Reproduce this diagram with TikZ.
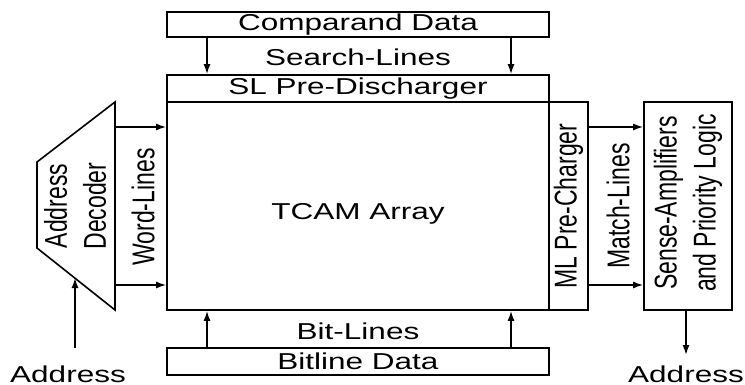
\documentclass[tikz,border=0pt]{standalone}
\usepackage{fontspec}
\setmainfont{Liberation Sans}
\newfontfamily\hfam[FakeStretch=1.37]{Liberation Sans}
\newfontfamily\vfam[FakeStretch=0.73]{Liberation Sans}
\newcommand\hlbl{\hfam\fontsize{11.5}{13}\selectfont}
\newcommand\vlbl{\vfam\fontsize{15.75}{19.5}\selectfont}
\usetikzlibrary{positioning,arrows.meta,calc}

\tikzset{
    blk/.style={draw, thick, rectangle, inner sep=0pt},
    vtxt/.style={rotate=90, font=\vlbl, align=center, inner sep=0pt},
    sig/.style={->, thick}
}

\begin{document}
\begin{tikzpicture}[x=0.5pt, y=-0.5pt, font=\hlbl, >={Latex[length=5pt,width=3.5pt]}]
    \useasboundingbox (0,0) rectangle (745,385);

    \node[blk, minimum width=191pt, minimum height=12.5pt] (cmp) at (358,24.5) {Comparand Data};
    \node[blk, minimum width=191pt, minimum height=13.5pt] (sld) at (358,88.5) {SL Pre-Discharger};
    \node[blk, minimum width=191pt, minimum height=104pt,
        label={[yshift=-4pt]center:TCAM Array}] (arr) at (358,206) {};
    \node[blk, minimum width=19.5pt, minimum height=104pt,
        label={[vtxt]center:ML Pre-Charger}] (mlp) at (568.5,206) {};
    \node[blk, minimum width=44pt, minimum height=104pt,
        label={[vtxt, xshift=1.5pt]center:Sense-Amplifiers\\and Priority Logic}] (sap) at (688,206) {};
    \node[blk, minimum width=191pt, minimum height=13.5pt] (bld) at (358,361.5) {Bitline Data};

    % address decoder
    \draw[thick] (37,162) -- (115,102) -- (115,310) -- (37,248) -- cycle;
    \coordinate (decR) at (115,206);
    \node[vtxt] (dec) at (75,206) {Address\\Decoder};

    \node (srch) at (358,57) {Search-Lines};
    \node (bitl) at (358,331) {Bit-Lines};
    \node[vtxt] (wrdl) at (143,207) {Word-Lines};
    \node[vtxt] (mtch) at (618,206) {Match-Lines};
    \node (ain) at (68,374) {Address};
    \node (aout) at (686,374) {Address};

    \coordinate (c1) at (207,0);
    \coordinate (c2) at (511,0);
    \coordinate (r1) at (0,127);
    \coordinate (r2) at (0,285);
    \coordinate (inlo) at (75,348);
    \coordinate (inhi) at (75,278);
    \coordinate (outlo) at (686,355);

    \draw[sig] (c1 |- cmp.south) -- (c1 |- sld.north);
    \draw[sig] (c2 |- cmp.south) -- (c2 |- sld.north);
    \draw[sig] (c1 |- bld.north) -- (c1 |- arr.south);
    \draw[sig] (c2 |- bld.north) -- (c2 |- arr.south);
    \draw[sig] (r1 -| decR) -- (r1 -| arr.west);
    \draw[sig] (r2 -| decR) -- (r2 -| arr.west);
    \draw[sig] (r1 -| mlp.east) -- (r1 -| sap.west);
    \draw[sig] (r2 -| mlp.east) -- (r2 -| sap.west);
    \draw[sig] (inlo) -- (inhi);
    \draw[sig] (sap.south -| outlo) -- (outlo);
\end{tikzpicture}
\end{document}
